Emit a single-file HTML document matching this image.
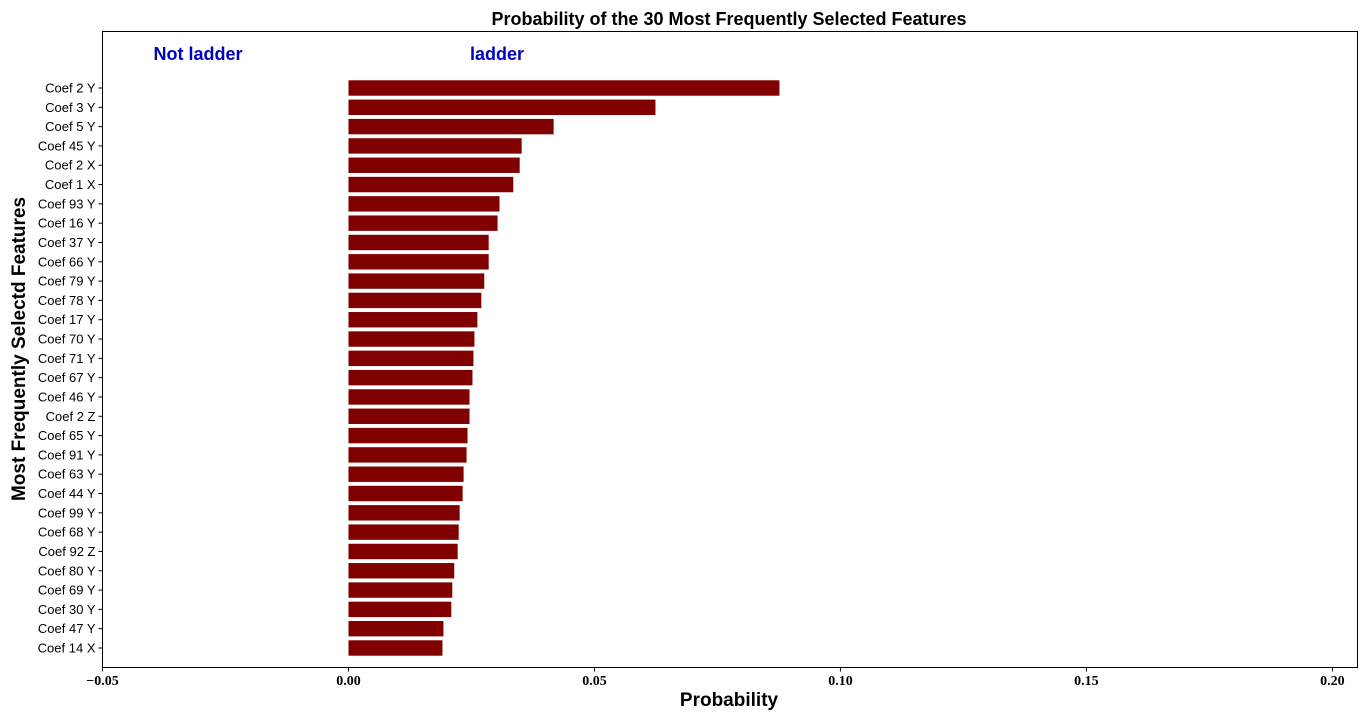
<!DOCTYPE html>
<html><head><meta charset="utf-8"><style>
html,body{margin:0;padding:0;background:#fff;}
svg{display:block;}
</style></head><body>
<svg id="chart" width="1368" height="720" xmlns="http://www.w3.org/2000/svg">
<rect x="0" y="0" width="1368" height="720" fill="#fff"/>
<text x="729" y="25" text-anchor="middle" font-family="Liberation Sans, sans-serif" font-weight="bold" font-size="18">Probability of the 30 Most Frequently Selected Features</text>
<text x="198" y="60" text-anchor="middle" font-family="Liberation Sans, sans-serif" font-weight="bold" font-size="18" fill="#0000c0">Not ladder</text>
<text x="497" y="60" text-anchor="middle" font-family="Liberation Sans, sans-serif" font-weight="bold" font-size="18" fill="#0000c0">ladder</text>
<g id="bars"></g>
<g id="yticks"></g>
<g id="xticks"></g>
<rect x="102.5" y="31.5" width="1255" height="636" fill="none" stroke="#000" stroke-width="1"/>
<text x="729" y="706" text-anchor="middle" font-family="Liberation Sans, sans-serif" font-weight="bold" font-size="19">Probability</text>
<text transform="translate(25,349) rotate(-90)" text-anchor="middle" font-family="Liberation Sans, sans-serif" font-weight="bold" font-size="19">Most Frequently Selectd Features</text>
</svg>
<script>
const categories = ["Coef 2 Y","Coef 3 Y","Coef 5 Y","Coef 45 Y","Coef 2 X","Coef 1 X","Coef 93 Y","Coef 16 Y","Coef 37 Y","Coef 66 Y","Coef 79 Y","Coef 78 Y","Coef 17 Y","Coef 70 Y","Coef 71 Y","Coef 67 Y","Coef 46 Y","Coef 2 Z","Coef 65 Y","Coef 91 Y","Coef 63 Y","Coef 44 Y","Coef 99 Y","Coef 68 Y","Coef 92 Z","Coef 80 Y","Coef 69 Y","Coef 30 Y","Coef 47 Y","Coef 14 X"];
const values = [0.0876,0.0624,0.0417,0.0352,0.0348,0.0335,0.0307,0.0303,0.0285,0.0285,0.0276,0.0270,0.0262,0.0256,0.0254,0.0252,0.0246,0.0246,0.0242,0.0240,0.0234,0.0232,0.0226,0.0224,0.0222,0.0215,0.0211,0.0209,0.0193,0.0191];
const xTicks = [-0.05,0,0.05,0.10,0.15,0.20];
const xTickLabels = ["\u22120.05","0.00","0.05","0.10","0.15","0.20"];

const NS="http://www.w3.org/2000/svg";
const X0=102.5, X1=1357.5, XMIN=-0.05, XMAX=0.2051;
const xScale=v=>X0+(v-XMIN)/(XMAX-XMIN)*(X1-X0);
const yFirst=88, yLast=648;
const yScale=i=>yFirst+i*(yLast-yFirst)/(categories.length-1);
const bh=15.4;
const gb=document.getElementById('bars'), gy=document.getElementById('yticks'), gx=document.getElementById('xticks');
categories.forEach((c,i)=>{
  const r=document.createElementNS(NS,'rect');
  
  
  const xa=xScale(0), xb=xScale(values[i]);
  r.setAttribute('x',xa);r.setAttribute('y',yScale(i)-bh/2);
  r.setAttribute('width',xb-xa);r.setAttribute('height',bh);
  r.setAttribute('fill','#800000');
  gb.appendChild(r);
  const t=document.createElementNS(NS,'line');
  
  
  t.setAttribute('x1',X0-4);t.setAttribute('x2',X0);t.setAttribute('y1',yScale(i));t.setAttribute('y2',yScale(i));t.setAttribute('stroke','#000');
  gy.appendChild(t);
  const l=document.createElementNS(NS,'text');
  
  
  l.setAttribute('x',X0-7);l.setAttribute('y',yScale(i)+4.5);l.setAttribute('text-anchor','end');
  l.setAttribute('font-family','Liberation Sans, sans-serif');l.setAttribute('font-size','13');
  l.textContent=c;gy.appendChild(l);
});
xTicks.forEach((v,i)=>{
  const x=xScale(v);
  const t=document.createElementNS(NS,'line');
  
  
  t.setAttribute('x1',x);t.setAttribute('x2',x);t.setAttribute('y1',667.5);t.setAttribute('y2',671.5);t.setAttribute('stroke','#000');
  gx.appendChild(t);
  const l=document.createElementNS(NS,'text');
  
  
  l.setAttribute('x',x);l.setAttribute('y',685);l.setAttribute('text-anchor','middle');
  l.setAttribute('font-family','Liberation Serif, serif');l.setAttribute('font-weight','bold');l.setAttribute('font-size','14');
  l.textContent=xTickLabels[i];gx.appendChild(l);
});
</script>
</body></html>
